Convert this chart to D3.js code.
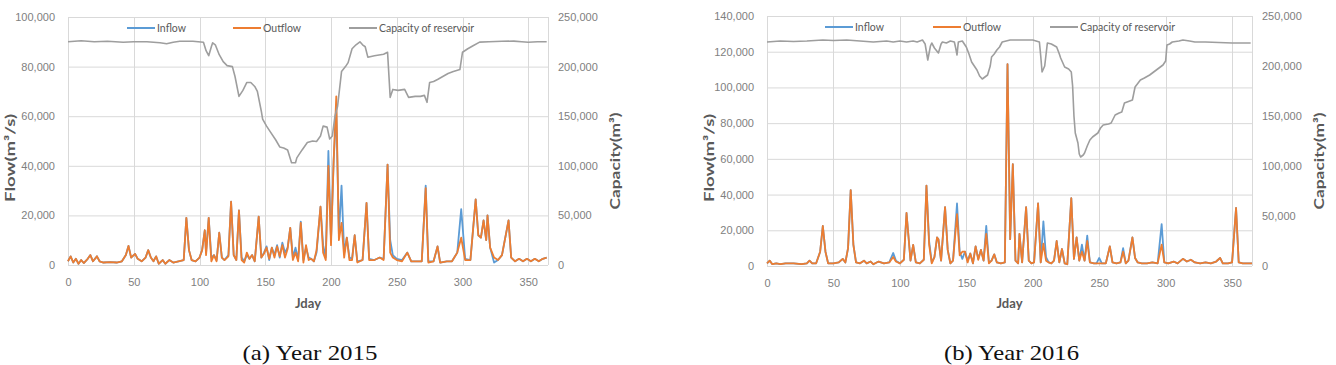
<!DOCTYPE html>
<html>
<head>
<meta charset="utf-8">
<script src="https://cdn.jsdelivr.net/npm/d3@7"></script>
<style>
body { margin: 0; background: #fff; }
svg { display: block; font-family: Lato, "Open Sans", sans-serif; }
.grid line { stroke: #d9d9d9; stroke-width: 1; }
.axis .tick text { fill: #808080; font-size: 11px; }
.axis path, .axis line { display: none; }
.axis-title { fill: #595959; font-weight: bold; font-size: 14px; }
.legend text { fill: #595959; font-size: 10.5px; }
.caption { font-family: "Liberation Serif", "Times New Roman", serif; font-size: 22px; fill: #111; }
</style>
</head>
<body>
<svg id="fig" width="1336" height="365"></svg>
<script>
// tick labels
var xTicks = [0, 50, 100, 150, 200, 250, 300, 350];
var flowTicks2015 = [0, 20000, 40000, 60000, 80000, 100000];
var flowTicks2016 = [0, 20000, 40000, 60000, 80000, 100000, 120000, 140000];
var capTicks = [0, 50000, 100000, 150000, 200000, 250000];
var seriesNames = ["Inflow", "Outflow", "Capacity of reservoir"];

// 2015 flow (m3/s)
var flowDays2015 = [0, 2, 4, 6, 8, 10, 12, 15, 17, 19, 22, 24, 27, 32, 37, 41, 44, 46, 48, 51,
    53, 56, 59, 61, 63, 65, 67, 69, 72, 74, 77, 80, 84, 88, 90, 92, 94, 97, 100, 102,
    104, 105, 107, 109, 111, 113, 115, 117, 119, 122, 124, 126, 128, 130, 132, 134, 136, 138, 140, 142,
    145, 147, 149, 151, 153, 155, 157, 159, 161, 163, 165, 167, 169, 171, 173, 175, 177, 179, 181, 183,
    185, 187, 189, 192, 194, 196, 198, 200, 202, 204, 206, 208, 210, 212, 214, 216, 218, 220, 224, 227,
    229, 233, 237, 240, 243, 245, 247, 250, 254, 258, 261, 265, 269, 272, 274, 278, 281, 283, 288, 292,
    296, 299, 302, 306, 310, 312, 314, 316, 318, 319, 321, 324, 327, 330, 335, 337, 340, 343, 346, 349,
    352, 355, 358, 361, 364];
var inflow2015 = [1500, 3500, 1000, 2500, 500, 2000, 800, 2500, 4000, 1500, 3500, 1500, 1000, 1200, 1000, 1500, 4000, 7700, 3000, 4500,
    2500, 1500, 3000, 6000, 3000, 1500, 3500, 500, 2000, 500, 2000, 1000, 1500, 2000, 19000, 6000, 2000, 1500, 3000, 6000,
    14000, 5000, 19000, 3000, 4000, 2000, 13000, 3000, 2000, 4000, 25500, 4000, 2000, 22000, 3000, 1500, 4000, 2500, 4000, 1500,
    19500, 3000, 5000, 7500, 2000, 7000, 4000, 8000, 3000, 9000, 5000, 7000, 15000, 3000, 7000, 2000, 17500, 2000, 7000, 3000,
    2500, 1500, 5000, 23500, 8000, 3000, 46000, 10000, 42000, 62000, 12000, 32000, 5000, 11000, 3000, 2500, 12000, 1500, 2000, 25000,
    2500, 2000, 3000, 2500, 40500, 10000, 4000, 2500, 2000, 5000, 1500, 1500, 1500, 32000, 1500, 1500, 7500, 1000, 1500, 1500,
    5000, 22500, 2500, 2000, 26500, 12000, 11000, 18000, 10000, 20000, 7000, 1000, 2000, 4000, 18000, 3000, 1500, 2500, 1500, 2500,
    1500, 2500, 1500, 2500, 3000];
var outflow2015 = [1500, 3500, 1000, 2500, 500, 2000, 800, 2500, 4000, 1500, 3500, 1500, 1000, 1200, 1000, 1500, 4000, 7700, 3000, 4500,
    2500, 1500, 3000, 6000, 3000, 1500, 3500, 500, 2000, 500, 2000, 1000, 1500, 2000, 19000, 6000, 2000, 1500, 3000, 6000,
    14000, 4000, 19000, 1500, 4000, 1500, 13000, 3000, 2000, 3500, 25500, 4000, 2000, 22000, 2000, 1000, 5000, 2500, 4000, 1500,
    19500, 3000, 4500, 7000, 2500, 7000, 3000, 7500, 3500, 8000, 3000, 6500, 15000, 2000, 5000, 1500, 17000, 1000, 8000, 2000,
    2500, 1500, 6000, 23500, 5000, 2000, 40000, 8000, 42000, 68000, 10000, 17000, 3000, 11000, 2000, 2000, 12000, 1000, 2000, 25000,
    2000, 2000, 3000, 2000, 40500, 5000, 3000, 2000, 1500, 5000, 1500, 1500, 1500, 31000, 1000, 1500, 7500, 1000, 1500, 1500,
    5000, 11000, 2000, 2000, 26500, 12000, 11000, 18000, 10000, 20000, 7000, 3000, 2000, 4000, 18000, 3000, 1500, 2500, 1500, 2500,
    1500, 2500, 1500, 2500, 3000];

// 2015 reservoir capacity (m3)
var capDays2015 = [0, 10, 20, 30, 42, 50, 60, 70, 75, 80, 85, 95, 103, 105, 107, 109, 110, 112, 115, 118,
    121, 125, 127, 130, 133, 136, 139, 142, 144, 147, 148, 151, 154, 158, 161, 164, 167, 170, 173, 174,
    178, 182, 186, 189, 192, 194, 197, 199, 201, 203, 205, 208, 211, 213, 216, 219, 222, 224, 226, 228,
    233, 240, 243, 245, 247, 251, 256, 259, 264, 268, 271, 273, 275, 278, 281, 285, 289, 293, 298, 300,
    304, 308, 313, 320, 330, 339, 345, 350, 357, 364];
var capacity2015 = [225000, 226000, 225000, 225500, 224500, 225000, 225000, 224000, 223000, 224500, 225500, 225500, 224500, 216000, 211000, 220000, 224000, 222000, 212000, 205000,
    201000, 200000, 190000, 170000, 176000, 184000, 184000, 180000, 175000, 155000, 147000, 140000, 134000, 126000, 119000, 118000, 116000, 103000, 103000, 108000,
    116000, 123500, 125000, 124500, 130000, 140000, 139000, 127000, 130000, 150000, 160000, 195000, 200000, 204000, 218000, 222000, 225000, 222000, 220000, 209500,
    211000, 212500, 214500, 169000, 177000, 176000, 177000, 169000, 170000, 170000, 171000, 164000, 184000, 185000, 187000, 190000, 193000, 195000, 197000, 214500,
    218000, 221000, 224700, 225000, 225500, 225700, 225000, 224500, 225000, 225000];

// 2016 flow (m3/s)
var flowDays2016 = [0, 2, 4, 7, 10, 14, 20, 26, 30, 32, 34, 37, 40, 42, 44, 46, 50, 54, 57, 59,
    61, 63, 65, 67, 70, 73, 75, 78, 80, 84, 88, 92, 95, 97, 100, 103, 105, 108, 110, 112,
    115, 118, 120, 122, 124, 126, 128, 129, 131, 134, 136, 138, 140, 143, 145, 147, 149, 151, 153, 155,
    157, 159, 161, 163, 165, 167, 169, 171, 173, 176, 179, 181, 183, 185, 187, 189, 190, 192, 195, 197,
    199, 201, 204, 206, 208, 210, 212, 214, 216, 218, 220, 222, 224, 226, 229, 231, 233, 235, 237, 239,
    241, 243, 246, 248, 250, 252, 255, 258, 260, 263, 266, 268, 270, 272, 275, 277, 279, 282, 286, 290,
    294, 297, 299, 302, 306, 309, 313, 316, 319, 322, 326, 330, 334, 338, 341, 343, 347, 350, 353, 355,
    358, 362, 365];
var inflow2016 = [1500, 3000, 1000, 1500, 1000, 1500, 1500, 1000, 1500, 3000, 1500, 1500, 8000, 22400, 8000, 1500, 1500, 2000, 4000, 2000,
    10000, 42500, 12000, 2000, 1500, 3000, 1500, 2500, 1000, 2500, 1500, 2000, 7300, 3000, 1500, 3500, 29700, 3000, 11800, 2000,
    1500, 3500, 45000, 14000, 2000, 5000, 16000, 15000, 3000, 33000, 9000, 1500, 3000, 35000, 8000, 4000, 8000, 3000, 7000, 1500,
    11000, 4000, 9000, 3000, 22500, 2000, 3000, 6500, 2000, 1500, 2000, 113000, 15000, 57000, 3000, 1500, 18000, 2000, 33000, 3000,
    1500, 2000, 35000, 2000, 25000, 5000, 2000, 1500, 3000, 14000, 2000, 9500, 1500, 1000, 38000, 4000, 16000, 3000, 12000, 3000,
    17000, 2000, 1500, 1500, 4500, 1500, 1500, 11000, 2000, 1500, 2000, 10000, 1500, 3000, 16000, 4500, 2000, 1500, 1500, 2000,
    1500, 23500, 2000, 1500, 2500, 1500, 4000, 2500, 3500, 2000, 1500, 2000, 1500, 2500, 4500, 1500, 1500, 2000, 32500, 2000,
    1500, 1500, 1500];
var outflow2016 = [1500, 3000, 1000, 1500, 1000, 1500, 1500, 1000, 1500, 3000, 1500, 1500, 8000, 22400, 8000, 1500, 1500, 2000, 4000, 2000,
    10000, 42500, 12000, 2000, 1500, 3000, 1500, 2500, 1000, 2500, 1500, 2000, 5000, 2500, 1500, 3500, 29700, 3000, 11800, 2000,
    1500, 3500, 45000, 12000, 1500, 5000, 16000, 15000, 3000, 33000, 9000, 1500, 3000, 29000, 6000, 8000, 8000, 2000, 7000, 1500,
    11000, 3500, 9000, 3000, 18000, 1500, 3000, 6500, 2000, 1500, 2000, 113000, 15000, 57000, 3000, 1500, 18000, 2000, 33000, 3000,
    1500, 2000, 35000, 2000, 12500, 3000, 2000, 1500, 3000, 14000, 2000, 9500, 1500, 1000, 38000, 4000, 16000, 3000, 8000, 3000,
    14000, 2000, 1500, 1500, 1500, 1500, 1500, 11000, 2000, 1500, 2000, 8000, 1500, 3000, 16000, 4500, 2000, 1500, 1500, 2000,
    1500, 12000, 2000, 1500, 2500, 1500, 4000, 2500, 3500, 2000, 1500, 2000, 1500, 2500, 4500, 1500, 1500, 2000, 32500, 2000,
    1500, 1500, 1500];

// 2016 reservoir capacity (m3)
var capDays2016 = [0, 10, 20, 30, 42, 50, 60, 70, 80, 90, 95, 100, 105, 110, 113, 117, 119, 121, 123, 124,
    126, 129, 131, 132, 135, 138, 141, 142, 143, 144, 147, 150, 152, 154, 156, 158, 160, 162, 164, 166,
    168, 169, 171, 173, 175, 177, 180, 183, 190, 195, 200, 205, 206, 207, 208, 209, 211, 214, 218, 220,
    221, 224, 227, 229, 230, 231, 232, 234, 235, 236, 238, 239, 241, 243, 245, 249, 251, 253, 257, 259,
    262, 265, 267, 269, 273, 275, 277, 281, 284, 288, 293, 298, 300, 301, 303, 305, 310, 313, 318, 322,
    330, 340, 350, 364];
var capacity2016 = [224000, 225000, 224500, 225000, 226000, 225500, 226000, 225000, 224000, 225000, 224000, 225000, 224000, 225000, 224000, 226000, 222000, 206000, 220000, 223000,
    218000, 213000, 222000, 224000, 223000, 225000, 224000, 218000, 211000, 224000, 225000, 219000, 212000, 204000, 200000, 196000, 190000, 187000, 189000, 191000,
    200000, 209000, 212000, 216000, 219000, 224000, 225000, 226000, 226000, 226000, 226000, 224000, 210000, 194000, 197000, 200000, 223000, 222000, 219000, 212000,
    208000, 199000, 197000, 194000, 180000, 150000, 133000, 123000, 112000, 109000, 111000, 113000, 120000, 126000, 129000, 133000, 138000, 141000, 142000, 143000,
    151000, 153000, 154000, 163000, 165000, 166000, 179000, 186000, 188000, 191000, 196000, 201000, 205000, 221000, 222000, 224000, 225000, 226000, 225000, 224000,
    224000, 223500, 223000, 223000];

var colors = {inflow: "#5b9bd5", outflow: "#ed7d31", capacity: "#9e9e9e"};

function dualAxisChart() {
    var box = {left: 68, top: 17, width: 480, height: 248},
        flowTicks = flowTicks2015,
        legendX = [127, 233, 349],
        caption = "";

    function chart(selection) {
        selection.each(function(d) {
            var g = d3.select(this);
            var x = d3.scaleLinear().domain([0, 365]).range([box.left, box.left + box.width]);
            var yFlow = d3.scaleLinear().domain([0, d3.max(flowTicks)]).range([box.top + box.height, box.top]);
            var yCap = d3.scaleLinear().domain([0, 250000]).range([box.top + box.height, box.top]);
            var bottom = box.top + box.height, right = box.left + box.width;

            // gridlines
            var grid = g.append("g").attr("class", "grid");
            grid.selectAll(".h").data(flowTicks).enter().append("line")
                .attr("x1", box.left).attr("x2", right)
                .attr("y1", function(v) { return yFlow(v) + 0.5; })
                .attr("y2", function(v) { return yFlow(v) + 0.5; });
            grid.selectAll(".v").data(xTicks.concat([365])).enter().append("line")
                .attr("y1", box.top).attr("y2", bottom)
                .attr("x1", function(v) { return Math.round(x(v)) + 0.5; })
                .attr("x2", function(v) { return Math.round(x(v)) + 0.5; });

            // axes
            g.append("g").attr("class", "axis")
                .attr("transform", "translate(0," + bottom + ")")
                .call(d3.axisBottom(x).tickValues(xTicks).tickSize(0).tickPadding(13).tickFormat(d3.format("d")));
            g.append("g").attr("class", "axis")
                .attr("transform", "translate(" + box.left + ",0)")
                .call(d3.axisLeft(yFlow).tickValues(flowTicks).tickSize(0).tickPadding(13).tickFormat(d3.format(",")));
            g.append("g").attr("class", "axis")
                .attr("transform", "translate(" + right + ",0)")
                .call(d3.axisRight(yCap).tickValues(capTicks).tickSize(0).tickPadding(10).tickFormat(d3.format(",")));

            // series
            var flowLine = d3.line()
                .x(function(p) { return x(p[0]); })
                .y(function(p) { return yFlow(p[1]); });
            var capLine = d3.line()
                .x(function(p) { return x(p[0]); })
                .y(function(p) { return yCap(p[1]); });

            g.append("path").datum(d3.zip(d.flowDays, d.inflow))
                .attr("fill", "none").attr("stroke", colors.inflow).attr("stroke-width", 1.8)
                .attr("stroke-linejoin", "round").attr("d", flowLine);
            g.append("path").datum(d3.zip(d.flowDays, d.outflow))
                .attr("fill", "none").attr("stroke", colors.outflow).attr("stroke-width", 1.8)
                .attr("stroke-linejoin", "round").attr("d", flowLine);
            g.append("path").datum(d3.zip(d.capDays, d.capacity))
                .attr("fill", "none").attr("stroke", colors.capacity).attr("stroke-width", 1.6)
                .attr("stroke-linejoin", "round").attr("d", capLine);

            // legend
            var legendColors = [colors.inflow, colors.outflow, colors.capacity];
            var legend = g.append("g").attr("class", "legend")
                .selectAll("g").data(seriesNames).enter().append("g")
                .attr("transform", function(n, i) { return "translate(" + legendX[i] + "," + (box.top + 11) + ")"; });
            legend.append("line").attr("x1", 0).attr("x2", 28)
                .attr("stroke", function(n, i) { return legendColors[i]; }).attr("stroke-width", 2);
            legend.append("text").attr("x", 30).attr("dy", "0.35em").text(function(n) { return n; });

            // axis titles
            var midY = box.top + box.height / 2;
            g.append("text").attr("class", "axis-title")
                .attr("text-anchor", "middle")
                .attr("transform", "translate(" + (box.left - 53) + "," + (midY + 17) + ") rotate(-90)")
                .attr("textLength", 88).attr("lengthAdjust", "spacingAndGlyphs")
                .text("Flow(m³/s)");
            g.append("text").attr("class", "axis-title")
                .attr("text-anchor", "middle")
                .attr("transform", "translate(" + (right + 72) + "," + (midY + 20) + ") rotate(-90)")
                .attr("textLength", 97).attr("lengthAdjust", "spacingAndGlyphs")
                .text("Capacity(m³)");
            g.append("text").attr("class", "axis-title")
                .attr("text-anchor", "middle")
                .attr("x", box.left + box.width / 2).attr("y", 308)
                .style("font-size", "13px")
                .text("Jday");

            g.append("text").attr("class", "caption")
                .attr("text-anchor", "middle")
                .attr("x", box.left + box.width / 2 + 2).attr("y", 360)
                .attr("textLength", 135).attr("lengthAdjust", "spacingAndGlyphs")
                .text(caption);
        });
    }

    chart.box = function(value) {
        if (!arguments.length) return box;
        box = value;
        return chart;
    };

    chart.flowTicks = function(value) {
        if (!arguments.length) return flowTicks;
        flowTicks = value;
        return chart;
    };

    chart.legendX = function(value) {
        if (!arguments.length) return legendX;
        legendX = value;
        return chart;
    };

    chart.caption = function(value) {
        if (!arguments.length) return caption;
        caption = value;
        return chart;
    };

    return chart;
}

var svg = d3.select("#fig");

svg.append("g")
    .datum({flowDays: flowDays2015, inflow: inflow2015, outflow: outflow2015, capDays: capDays2015, capacity: capacity2015})
    .call(dualAxisChart()
        .box({left: 68, top: 17, width: 480, height: 248})
        .flowTicks(flowTicks2015)
        .legendX([127, 233, 349])
        .caption("(a) Year 2015"));

svg.append("g")
    .datum({flowDays: flowDays2016, inflow: inflow2016, outflow: outflow2016, capDays: capDays2016, capacity: capacity2016})
    .call(dualAxisChart()
        .box({left: 767, top: 16, width: 485, height: 250})
        .flowTicks(flowTicks2016)
        .legendX([825, 933, 1050])
        .caption("(b) Year 2016"));
</script>
</body>
</html>
